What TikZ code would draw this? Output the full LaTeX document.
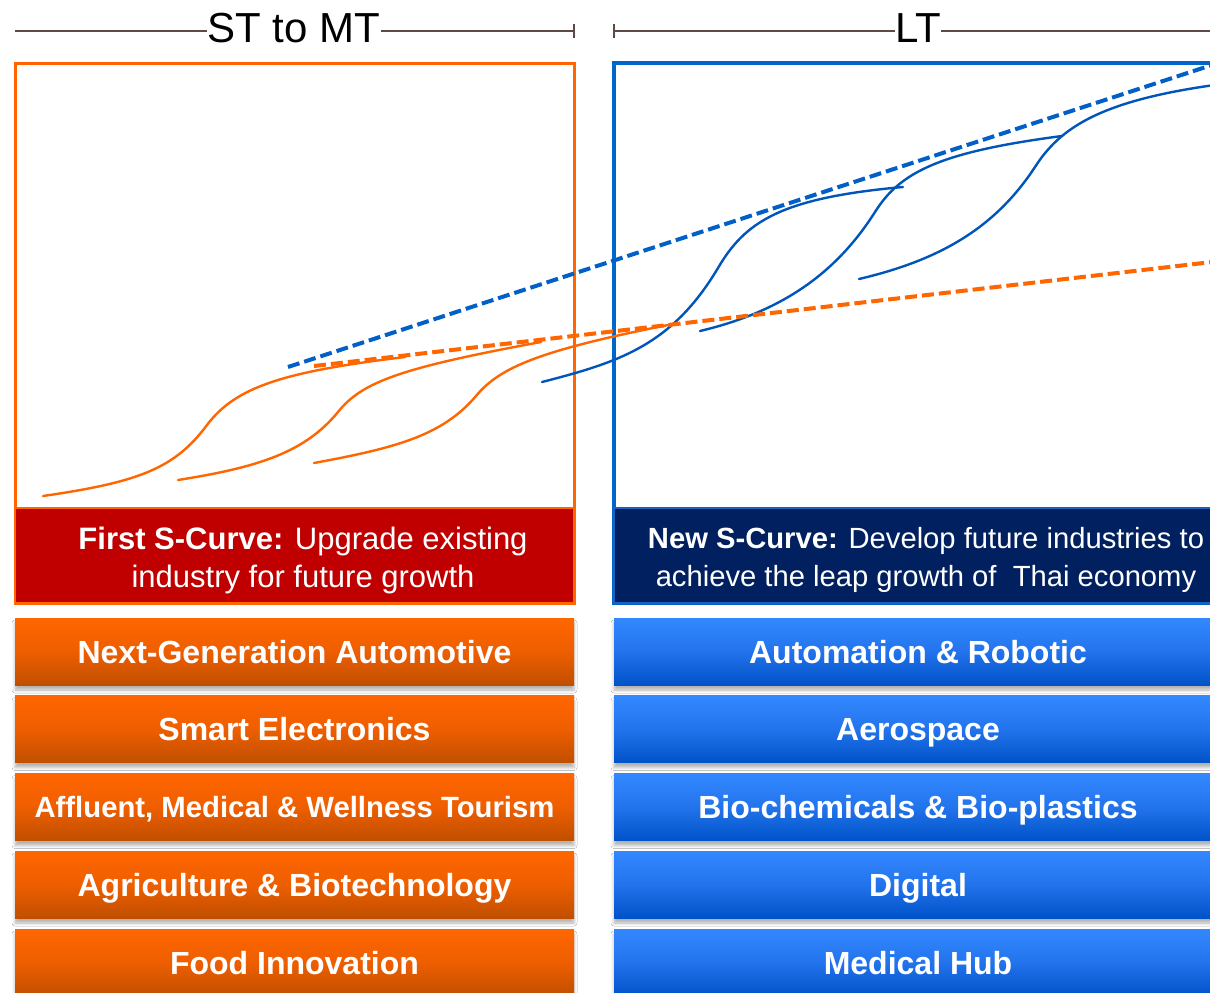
\documentclass[tikz,border=0pt]{standalone}
\usepackage{fontspec}
\setmainfont{Liberation Sans}
\usetikzlibrary{shadows.blur}
\definecolor{orng}{HTML}{FF6600}
\definecolor{orngmid}{HTML}{EE5E00}
\definecolor{orngdark}{HTML}{C04F00}
\definecolor{blu}{HTML}{0066CC}
\definecolor{blucurve}{HTML}{0055BB}
\definecolor{bludash}{HTML}{0060C8}
\definecolor{blutop}{HTML}{3388FF}
\definecolor{blumid}{HTML}{2374EC}
\definecolor{blubot}{HTML}{0052C8}
\definecolor{redbox}{HTML}{C00000}
\definecolor{navy}{HTML}{002060}
\definecolor{navyedge}{HTML}{1F5FBF}
\definecolor{hdr}{HTML}{5E4A44}
\begin{document}
\begin{tikzpicture}[x=1pt,y=-1pt,
  barbase/.style={minimum width=559pt, minimum height=67pt, inner sep=0pt, outer sep=0pt,
    text=white, text height=23pt, text depth=0pt, font=\bfseries\fontsize{32}{36}\selectfont,
    blur shadow={shadow xshift=0pt, shadow yshift=-5pt, shadow blur radius=3pt, shadow opacity=30}},
  obar/.style={barbase, top color=orng, bottom color=orngdark, middle color=orngmid},
  bbar/.style={barbase, minimum width=608pt, top color=blutop, bottom color=blubot, middle color=blumid},
  hdrline/.style={draw=hdr, line width=1.6pt},
  hdrtext/.style={inner sep=0pt, font=\fontsize{42}{42}\selectfont, text=black},
  captext/.style={inner sep=0pt, align=center, text=white, font=\fontsize{31}{38}\selectfont},
  ocurve/.style={draw=orng, line width=2.4pt, line cap=round},
  bcurve/.style={draw=blucurve, line width=2.4pt, line cap=round},
  odash/.style={draw=orng, line width=4pt, dash pattern=on 12pt off 5pt},
  bdash/.style={draw=bludash, line width=4pt, dash pattern=on 12pt off 5pt}
]
\clip (0,0) rectangle (1210,993);
\fill[white] (0,0) rectangle (1210,993);

% header
\node[hdrtext] (st) at (294,28) {ST to MT};
\node[hdrtext] (lt) at (918,28) {LT};
\coordinate (stL) at (15,31);
\coordinate (stR) at (574,31);
\coordinate (ltL) at (614,31);
\coordinate (ltR) at (1210,31);
\draw[hdrline] (stL) -- (st.west |- stL);
\draw[hdrline] (st.east |- stR) -- (stR);
\draw[hdrline] ([yshift=-7pt]stR) -- ([yshift=7pt]stR);
\draw[hdrline] ([yshift=-7pt]ltL) -- ([yshift=7pt]ltL);
\draw[hdrline] (ltL) -- (lt.west |- ltL);
\draw[hdrline] (lt.east |- ltR) -- (ltR);

% frames
\draw[orng, line width=3pt, fill=white] (15,63) rectangle (574,603);
\draw[orng, line width=2.5pt, fill=redbox] (15,508) rectangle (574,603);
\draw[blu, line width=3.5pt, fill=white] (614,63) rectangle (1222,603);
\draw[navyedge, line width=2.5pt, fill=navy] (614,508) rectangle (1222,603);

\node[captext] (cap1) at (303,560) {\textbf{First S-Curve:} Upgrade existing\\industry for future growth};
\node[captext, font=\fontsize{29.2}{38}\selectfont] (cap2) at (926,560) {\textbf{New S-Curve:} Develop future industries to\\achieve the leap growth of\ \ Thai economy};

% orange S-curves
\draw[ocurve] (43,496) .. controls (140,482) and (175,468) .. (207,425)
                      .. controls (235,388) and (280,372) .. (405,357);
\draw[ocurve] (178,480) .. controls (260,467) and (305,452) .. (338,412)
                       .. controls (362,382) and (400,368) .. (541,342);
\draw[ocurve] (314,463) .. controls (395,448) and (442,436) .. (476,396)
                       .. controls (500,367) and (540,350) .. (678,323);

% blue S-curves
\draw[bcurve] (542,382) .. controls (620,362) and (672,345) .. (718,268)
                       .. controls (745,222) and (780,198) .. (903,187);
\draw[bcurve] (700,331) .. controls (780,312) and (835,275) .. (875,212)
                       .. controls (900,172) and (940,152) .. (1062,136);
\draw[bcurve] (859,279) .. controls (940,260) and (995,228) .. (1035,167)
                       .. controls (1060,128) and (1100,100) .. (1222,84);

% trend lines
\coordinate (oA) at (314,366);
\coordinate (oB) at (1212,262);
\coordinate (bA) at (288,367);
\coordinate (bB) at (1212,65);
\draw[odash] (oA) -- (oB);
\draw[bdash] (bA) -- (bB);

% bars
\node[obar] (o1) at (294.5,651.5) {Next-Generation Automotive};
\node[obar] (o2) at (294.5,729) {Smart Electronics};
\node[obar, font=\bfseries\fontsize{29.3}{34}\selectfont, text height=21pt] (o3) at (294.5,807) {Affluent, Medical \& Wellness Tourism};
\node[obar] (o4) at (294.5,884.5) {Agriculture \& Biotechnology};
\node[obar] (o5) at (294.5,962.5) {Food Innovation};

\node[bbar] (b1) at (918,651.5) {Automation \& Robotic};
\node[bbar] (b2) at (918,729) {Aerospace};
\node[bbar] (b3) at (918,807) {Bio-chemicals \& Bio-plastics};
\node[bbar] (b4) at (918,884.5) {Digital};
\node[bbar] (b5) at (918,962.5) {Medical Hub};
\end{tikzpicture}
\end{document}
